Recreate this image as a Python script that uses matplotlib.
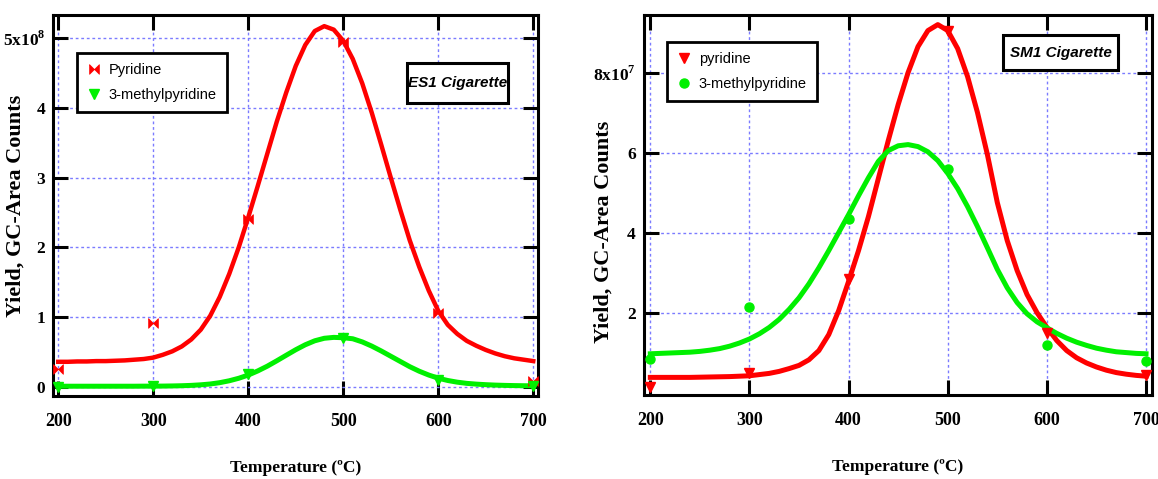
"""Pyridine / 3-methylpyridine yield vs pyrolysis temperature, ES1 and SM1."""

import numpy as np
import matplotlib
matplotlib.use("Agg")
import matplotlib.pyplot as plt
from matplotlib.patches import Rectangle

plt.rcParams["mathtext.fontset"] = "custom"
plt.rcParams["mathtext.rm"] = "Liberation Serif"
plt.rcParams["mathtext.bf"] = "Liberation Serif:bold"

RED = "#ff0000"
GREEN = "#00f000"
GRID = "#7b7bff"
SERIF = "Liberation Serif"
SANS = "Liberation Sans"

# measured points
temps = [200, 300, 400, 500, 600, 700]
es1_pyr = [0.25, 0.91, 2.40, 4.95, 1.06, 0.08]       # x 1e8
es1_mpyr = [0.0, 0.02, 0.18, 0.70, 0.10, 0.02]       # x 1e8
sm1_pyr = [0.15, 0.50, 2.83, 9.03, 1.50, 0.45]       # x 1e7
sm1_mpyr = [0.83, 2.13, 4.35, 5.58, 1.18, 0.78]      # x 1e7

# fitted curves, read every 10 degC
fit_t = np.arange(200, 701, 10)
es1_pyr_fit = [0.36, 0.36, 0.365, 0.365, 0.37, 0.37, 0.375, 0.38, 0.39, 0.40,
               0.42, 0.46, 0.51, 0.58, 0.68, 0.82, 1.02, 1.29, 1.62, 2.00,
               2.43, 2.88, 3.34, 3.80, 4.22, 4.60, 4.90, 5.10, 5.17, 5.12,
               4.96, 4.70, 4.35, 3.93, 3.47, 3.00, 2.54, 2.10, 1.72, 1.38,
               1.09, 0.89, 0.76, 0.66, 0.59, 0.53, 0.48, 0.44, 0.41, 0.39,
               0.37]
es1_mpyr_fit = [0.01, 0.01, 0.01, 0.01, 0.01, 0.01, 0.01, 0.01, 0.01, 0.011,
                0.011, 0.012, 0.014, 0.017, 0.022, 0.03, 0.042, 0.061, 0.088,
                0.124, 0.17, 0.229, 0.297, 0.374, 0.454, 0.533, 0.604, 0.661,
                0.697, 0.71, 0.705, 0.69, 0.645, 0.585, 0.515, 0.44, 0.365,
                0.29, 0.225, 0.17, 0.125, 0.092, 0.068, 0.051, 0.04, 0.032,
                0.026, 0.022, 0.019, 0.017, 0.016]
sm1_pyr_fit = [0.38, 0.38, 0.38, 0.38, 0.38, 0.385, 0.39, 0.395, 0.40, 0.41,
               0.42, 0.45, 0.48, 0.53, 0.60, 0.68, 0.82, 1.05, 1.45, 2.05,
               2.78, 3.55, 4.40, 5.35, 6.30, 7.20, 8.00, 8.65, 9.05, 9.20,
               9.05, 8.60, 7.90, 7.00, 5.95, 4.75, 3.80, 3.05, 2.45, 2.00,
               1.63, 1.30, 1.05, 0.87, 0.74, 0.64, 0.56, 0.50, 0.46, 0.43,
               0.41]
sm1_mpyr_fit = [0.97, 0.98, 0.99, 1.00, 1.01, 1.03, 1.06, 1.10, 1.16, 1.24,
                1.34, 1.47, 1.63, 1.83, 2.08, 2.37, 2.72, 3.12, 3.55, 4.00,
                4.45, 4.92, 5.37, 5.78, 6.05, 6.17, 6.20, 6.15, 6.02, 5.80,
                5.48, 5.10, 4.65, 4.15, 3.62, 3.08, 2.62, 2.25, 1.97, 1.77,
                1.62, 1.48, 1.36, 1.26, 1.18, 1.11, 1.06, 1.02, 1.00, 0.98,
                0.97]

x_ticks = [200, 300, 400, 500, 600, 700]
es1_yticks = [0, 1, 2, 3, 4, 5]
es1_ylabels = ["0", "1", "2", "3", "4", r"5x10$^{\mathbf{8}}$"]
sm1_yticks = [2, 4, 6, 8]
sm1_ylabels = ["2", "4", "6", r"8x10$^{\mathbf{7}}$"]

# horizontal bowtie marker used for ES1 pyridine
BOWTIE = [(-1, 1), (-1, -1), (1, 1), (1, -1), (-1, 1)]


def style_axes(ax, xlim, ylim, yticks, ylabels, ylab_xy):
    ax.set_xlim(*xlim)
    ax.set_ylim(*ylim)
    ax.set_xticks(x_ticks)
    ax.set_xticklabels([str(t) for t in x_ticks], fontfamily=SERIF,
                       fontweight="bold", fontsize=13)
    ax.set_yticks(yticks)
    ax.set_yticklabels(ylabels, fontfamily=SERIF, fontweight="bold",
                       fontsize=12.5)
    ax.tick_params(direction="in", length=11, width=2.2, top=True,
                   right=True, color="black")
    ax.tick_params(axis="x", pad=12)
    ax.tick_params(axis="y", pad=6)
    for sp in ax.spines.values():
        sp.set_linewidth(2.2)
    ax.grid(True, color=GRID, ls=(0, (2, 2)), lw=1.0)
    ax.set_axisbelow(True)
    ax.set_xlabel("Temperature (ºC)", fontfamily=SERIF, fontweight="bold",
                  fontsize=12.5, labelpad=22)
    ax.set_ylabel("Yield, GC-Area Counts", fontfamily=SERIF,
                  fontweight="bold", fontsize=16)
    ax.yaxis.set_label_coords(*ylab_xy)


def tag(ax, text, box):
    x0, y0, x1, y1 = box
    ax.add_patch(Rectangle((x0, y0), x1 - x0, y1 - y0, transform=ax.transAxes,
                           fc="white", ec="black", lw=2.2, zorder=5))
    ax.text((x0 + x1) / 2, (y0 + y1) / 2, text, transform=ax.transAxes,
            ha="center", va="center", fontsize=11, fontweight="bold",
            fontstyle="italic", family=SANS, zorder=6)


def legend(ax, x, y):
    lg = ax.legend(loc="upper left", bbox_to_anchor=(x, y),
                   prop={"family": SANS, "size": 10.5}, frameon=True,
                   fancybox=False, borderpad=0.7, handletextpad=0.6,
                   labelspacing=0.75, handlelength=0.9, borderaxespad=0,
                   framealpha=1)
    lg.get_frame().set_edgecolor("black")
    lg.get_frame().set_linewidth(2)


fig = plt.figure(figsize=(11.58, 4.79), dpi=100)
ax1 = fig.add_axes([0.0462, 0.1733, 0.4184, 0.7954])
ax2 = fig.add_axes([0.5561, 0.1754, 0.4387, 0.7933])

# ES1
ax1.plot(fit_t, es1_pyr_fit, color=RED, lw=3.2, zorder=3)
ax1.plot(fit_t, es1_mpyr_fit, color=GREEN, lw=3.6, zorder=3)
ax1.plot(temps, es1_pyr, ls="none", marker=BOWTIE, ms=7, color=RED,
         mew=0.5, label="Pyridine", zorder=4)
ax1.plot(temps, es1_mpyr, ls="none", marker="v", ms=7, color=GREEN,
         label="3-methylpyridine", zorder=4)
style_axes(ax1, (195, 705), (-0.13, 5.33), es1_yticks, es1_ylabels,
           (-0.057, 0.50))
legend(ax1, 0.048, 0.90)
tag(ax1, "ES1 Cigarette", (0.7296, 0.769, 0.938, 0.874))

# SM1
ax2.plot(fit_t, sm1_pyr_fit, color=RED, lw=3.6, zorder=3)
ax2.plot(fit_t, sm1_mpyr_fit, color=GREEN, lw=3.6, zorder=3)
ax2.plot(temps, sm1_pyr, ls="none", marker="v", ms=7, color=RED,
         label="pyridine", zorder=4)
ax2.plot(temps, sm1_mpyr, ls="none", marker="o", ms=6.5, color=GREEN,
         label="3-methylpyridine", zorder=4)
style_axes(ax2, (193.6, 706), (-0.06, 9.44), sm1_yticks, sm1_ylabels,
           (-0.059, 0.43))
legend(ax2, 0.045, 0.93)
tag(ax2, "SM1 Cigarette", (0.7067, 0.855, 0.933, 0.947))

fig.savefig("out.png", dpi=100)
